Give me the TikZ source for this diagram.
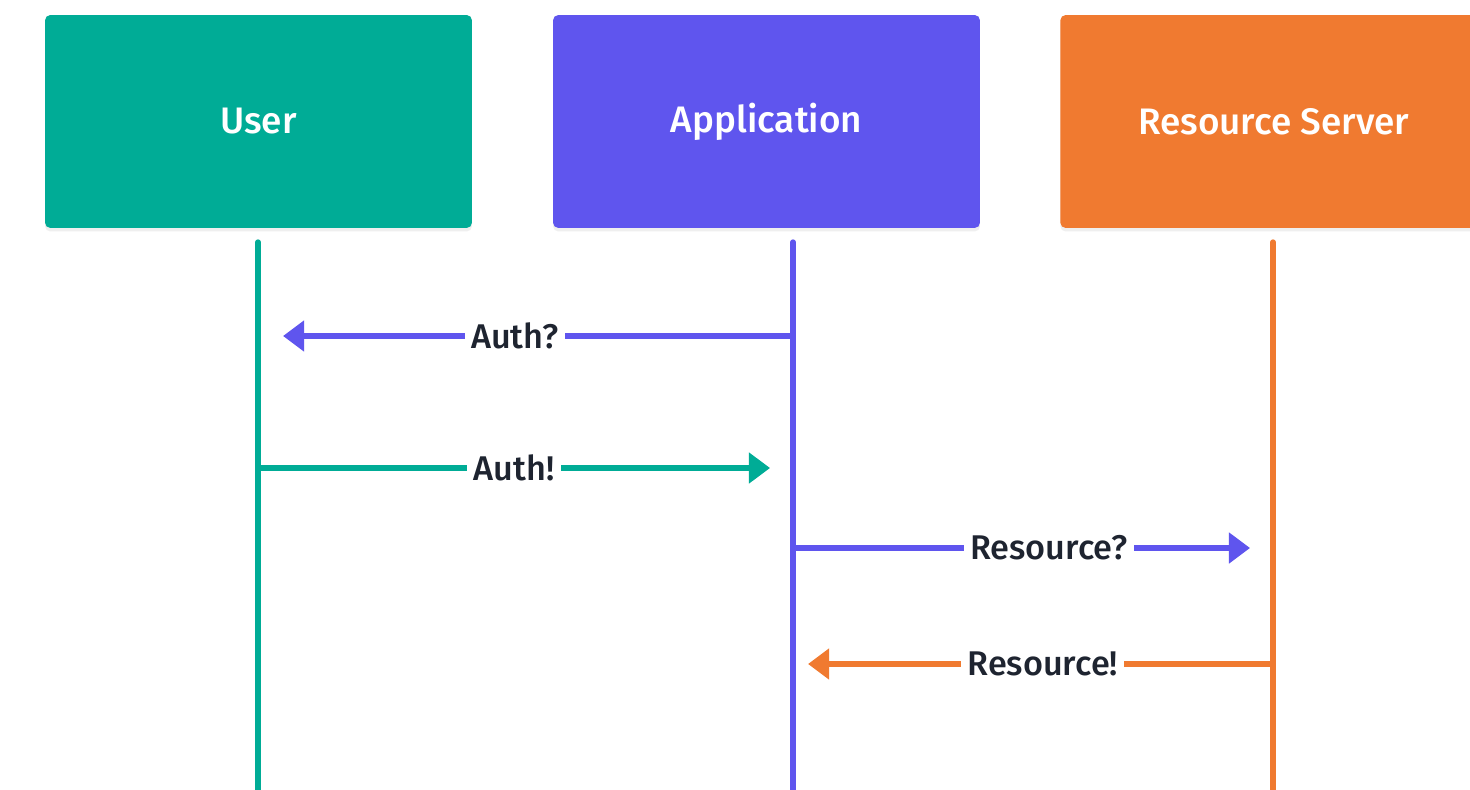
\documentclass[tikz,border=0pt]{standalone}
\usepackage{fontspec}
\setmainfont{Fira Sans}
\newfontfamily\medfont{Fira Sans Medium}
\usepackage{tikz}
\usetikzlibrary{arrows.meta,shadows}

\definecolor{usercol}{HTML}{00AC96}
\definecolor{appcol}{HTML}{5F55EE}
\definecolor{rescol}{HTML}{F07A30}
\definecolor{txtcol}{HTML}{1E2430}

\begin{document}
\begin{tikzpicture}[x=0.02cm, y=-0.02cm,
    acteur/.style={rectangle, rounded corners=3pt, minimum width=8.54cm, minimum height=4.26cm,
      text=white, font=\medfont\fontsize{21}{26}\selectfont, inner sep=0pt,
      drop shadow={opacity=0.12, shadow xshift=0pt, shadow yshift=-2pt}},
    vie/.style={line width=3pt, line cap=round},
    message/.style={line width=3pt, -{Triangle[length=12pt, width=17pt]}},
    etiquette/.style={fill=white, text=txtcol, inner xsep=3.5pt, inner ysep=1pt,
      font=\medfont\fontsize{19.5}{24}\selectfont}]
    \useasboundingbox (0,0) rectangle (1470,790);
    \fill[white] (0,0) rectangle (1470,790);
    \clip (0,0) rectangle (1470,790);
    % Acteurs
    \node[acteur, fill=usercol] (user) at (258.5,121.5) {User};
    \node[acteur, fill=appcol]  (app)  at (766.5,121.5) {Application};
    \node[acteur, fill=rescol, anchor=west] (res) at (1060,121.5) {Resource Server};
    % Lignes de vie
    \coordinate (u0) at (258,242);  \coordinate (u9) at (258,795);
    \coordinate (a0) at (793,242);  \coordinate (a9) at (793,795);
    \coordinate (r0) at (1273,242); \coordinate (r9) at (1273,795);
    \draw[vie, usercol] (u0) -- (u9);
    \draw[vie, appcol]  (a0) -- (a9);
    \draw[vie, rescol]  (r0) -- (r9);
    % Messages
    \coordinate (m1a) at (793,336);  \coordinate (m1b) at (283,336);
    \coordinate (m2a) at (258,468);  \coordinate (m2b) at (770,468);
    \coordinate (m3a) at (793,548);  \coordinate (m3b) at (1250,548);
    \coordinate (m4a) at (1273,664); \coordinate (m4b) at (808,664);
    \draw[message, appcol]  (m1a) -- (m1b) node[etiquette, pos=0.545] (l1) {Auth?};
    \draw[message, usercol] (m2a) -- (m2b) node[etiquette, pos=0.50]  (l2) {Auth!};
    \draw[message, appcol]  (m3a) -- (m3b) node[etiquette, pos=0.56]  (l3) {Resource?};
    \draw[message, rescol]  (m4a) -- (m4b) node[etiquette, pos=0.495] (l4) {Resource!};
  \end{tikzpicture}
\end{document}
